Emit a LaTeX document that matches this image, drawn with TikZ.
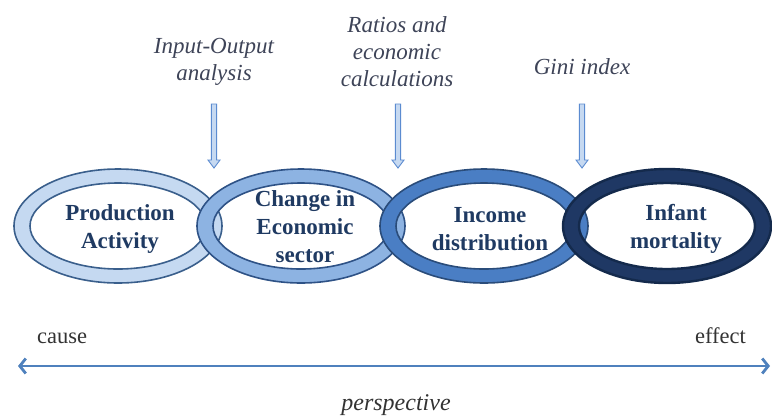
\documentclass[tikz,border=0pt]{standalone}
\usepackage{fontspec}
\setmainfont{Liberation Serif}
\usetikzlibrary{arrows.meta}
\definecolor{txtnavy}{HTML}{1F3A62}
\definecolor{lbl}{HTML}{3E4458}
\definecolor{botx}{HTML}{333333}
\definecolor{fillA}{HTML}{C5D9F1}
\definecolor{lineA}{HTML}{3A5F8C}
\definecolor{fillB}{HTML}{8DB3E2}
\definecolor{lineB}{HTML}{2E5286}
\definecolor{fillC}{HTML}{4A7EC4}
\definecolor{lineC}{HTML}{2A4C7A}
\definecolor{fillD}{HTML}{1F3864}
\definecolor{lineD}{HTML}{142A4C}
\definecolor{arrfill}{HTML}{C6D9F1}
\definecolor{arrline}{HTML}{5B8BD0}
\definecolor{axis}{HTML}{4F81BD}
\newcommand{\ringband}[4]{% center, fill, line, outline width
  \fill[#2, even odd rule] (#1) ellipse [x radius=104pt, y radius=57pt]
                           (#1) ellipse [x radius=88pt, y radius=43pt];
  \draw[#3, line width=#4] (#1) ellipse [x radius=104pt, y radius=57pt];
  \draw[#3, line width=#4] (#1) ellipse [x radius=88pt, y radius=43pt];
}
\newcommand{\hollowdown}[3]{% x, ytop, ytip
  \draw[arrline, fill=arrfill, line width=0.9pt, line join=miter]
    (#1-2.6,#2) -- (#1+2.6,#2) -- (#1+2.6,#3-8) -- (#1+6,#3-8) -- (#1,#3)
    -- (#1-6,#3-8) -- (#1-2.6,#3-8) -- cycle;
}
\tikzset{
  ringtext/.style={font=\fontsize{23}{28}\selectfont\bfseries, text=txtnavy, align=center, inner sep=0pt},
  method/.style={font=\fontsize{23}{27}\selectfont\itshape, text=lbl, align=center, inner sep=0pt},
  axislabel/.style={font=\fontsize{22.5}{27}\selectfont, text=botx, inner sep=0pt},
}
\begin{document}
\begin{tikzpicture}[x=1pt, y=-1pt]
\useasboundingbox (0,0) rectangle (772,416);
% ring centres
\coordinate (r1) at (118,226);
\coordinate (r2) at (301,226);
\coordinate (r3) at (484,226);
\coordinate (r4) at (667,226);
% rings
\ringband{r1}{fillA}{lineA}{1.6pt}
\ringband{r2}{fillB}{lineB}{1.6pt}
\ringband{r3}{fillC}{lineC}{1.6pt}
\ringband{r4}{fillD}{lineD}{2.4pt}
% ring texts
\node[ringtext] (t1) at (120,229) {Production\\Activity};
\node[ringtext] (t2) at (305,227) {Change in\\Economic\\sector};
\node[ringtext] (t3) at (490,229) {Income\\distribution};
\node[ringtext] (t4) at (676,229) {Infant\\mortality};
% method labels
\node[method] (m1) at (214,62) {Input-Output\\analysis};
\node[method] (m2) at (397,52) {Ratios and\\economic\\calculations};
\node[method] (m3) at (582,67) {Gini index};
% hollow arrows
\hollowdown{214}{104}{168}
\hollowdown{398}{104}{168}
\hollowdown{582}{104}{168}
% axis
\coordinate (aL) at (18,366);
\coordinate (aR) at (770,366);
\draw[axis, line width=2.8pt, {Straight Barb[length=6pt,width=15pt]}-{Straight Barb[length=6pt,width=15pt]}] (aL) -- (aR);
\node[axislabel, anchor=base west] (cause) at (37,343) {cause};
\node[axislabel, anchor=base east] (effect) at (746,343) {effect};
\node[axislabel, font=\fontsize{24}{28}\selectfont\itshape, anchor=base] (persp) at (396,410) {perspective};
\end{tikzpicture}
\end{document}
